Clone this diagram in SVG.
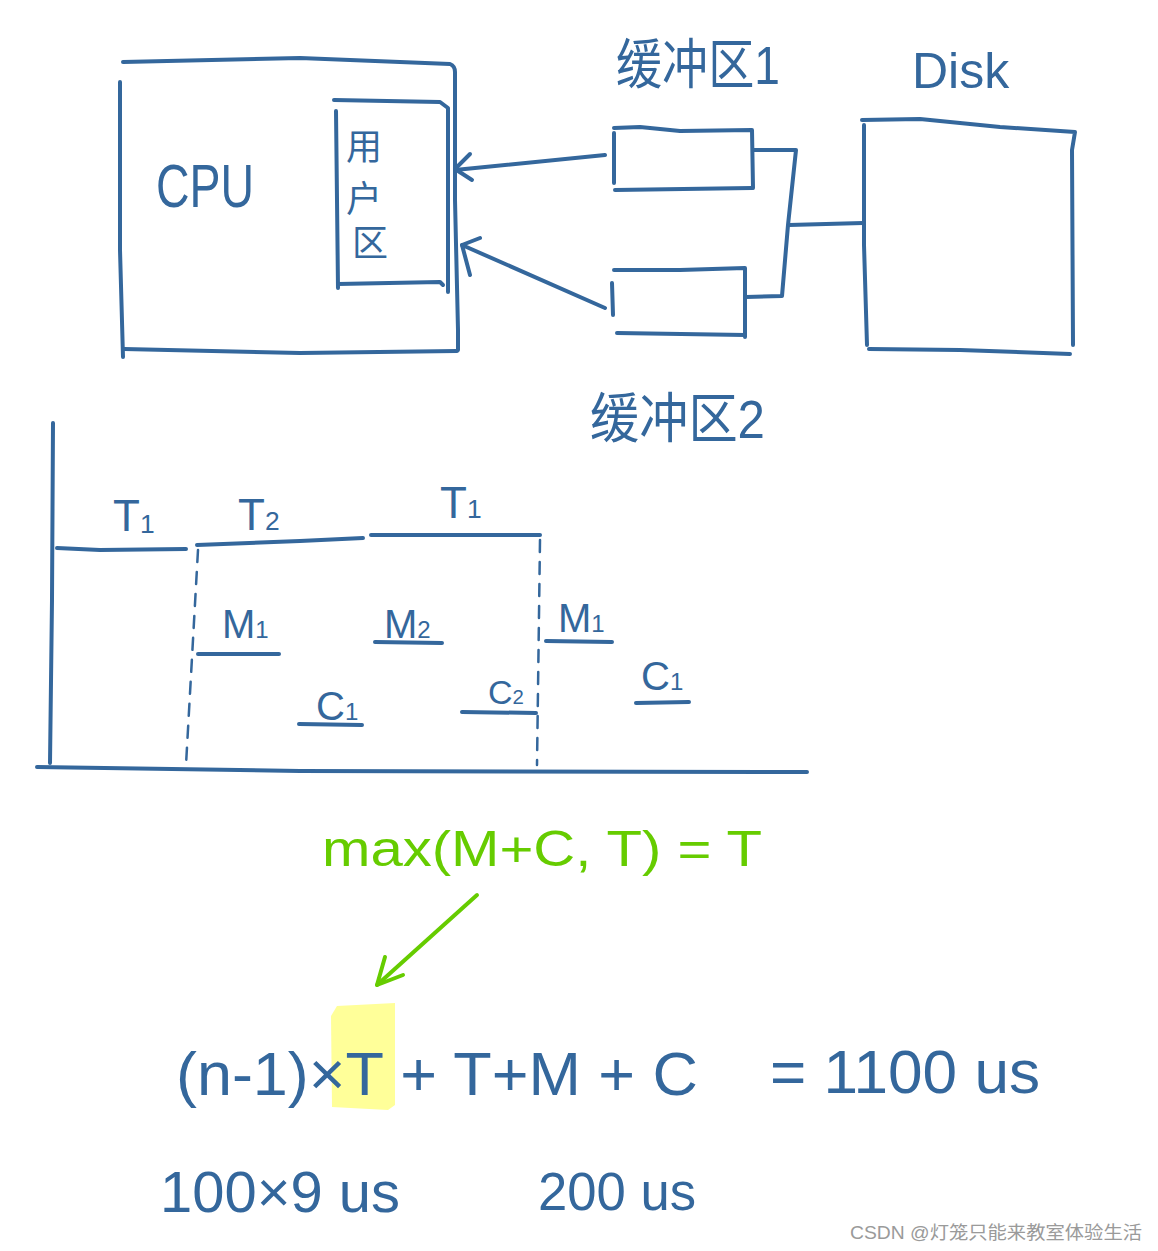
<svg xmlns="http://www.w3.org/2000/svg" width="1158" height="1251" viewBox="0 0 1158 1251">
<style>
.ln{fill:none;stroke:#34679c;stroke-width:4;stroke-linecap:round;stroke-linejoin:round}
.gl{fill:none;stroke:#66cc00;stroke-width:4;stroke-linecap:round;stroke-linejoin:round}
.dash{fill:none;stroke:#34679c;stroke-width:2.5;stroke-dasharray:12 10;stroke-linecap:round}
.t{font-family:"Liberation Sans","Noto Sans CJK SC",sans-serif;fill:#34679c}
.tg{font-family:"Liberation Sans",sans-serif;fill:#66cc00}
.sub{font-size:60%}
</style>
<rect width="1158" height="1251" fill="#fff"/>

<g id="cpu">
<path class="ln" d="M123 62 L300 58 L450 64 Q455 66 455 72 L455 200 L458 330 L458 350"/>
<path class="ln" d="M120 82 L120 250 L123 357"/>
<path class="ln" d="M124 349 L300 353 L457 351"/>
<text class="t" x="156" y="207" font-size="62" textLength="98" lengthAdjust="spacingAndGlyphs">CPU</text>
</g>

<g id="user-area">
<path class="ln" d="M334 100 L440 102 L448 108 L448 292"/>
<path class="ln" d="M336 111 L338 288"/>
<path class="ln" d="M338 284 L440 282 L443 285"/>
<text class="t" x="346" y="160" font-size="36">用</text>
<text class="t" x="346" y="212" font-size="36">户</text>
<text class="t" x="352" y="256" font-size="36">区</text>
</g>

<g id="buffer1">
<path class="ln" d="M614 128 L640 127 L680 131 L752 130 L753 188"/>
<path class="ln" d="M614 133 L614 183"/>
<path class="ln" d="M615 190 L752 188"/>
<text class="t" x="616" y="84" font-size="54" textLength="164" lengthAdjust="spacingAndGlyphs">缓冲区1</text>
</g>

<g id="buffer2">
<path class="ln" d="M614 270 L680 270 L745 268 L745 337"/>
<path class="ln" d="M612 283 L613 315"/>
<path class="ln" d="M617 333 L745 335"/>
<text class="t" x="590" y="438" font-size="54" textLength="175" lengthAdjust="spacingAndGlyphs">缓冲区2</text>
</g>

<g id="disk">
<path class="ln" d="M862 120 L920 119 L1000 127 L1075 132 L1072 150 L1073 345"/>
<path class="ln" d="M864 125 L864 245 L867 345"/>
<path class="ln" d="M869 349 L960 350 L1070 354"/>
<text class="t" x="912" y="88" font-size="50">Disk</text>
</g>

<g id="connectors">
<path class="ln" d="M605 155 L455 170"/>
<path class="ln" d="M470 154 L455 169 L472 180"/>
<path class="ln" d="M605 308 L462 245"/>
<path class="ln" d="M480 238 L462 245 L470 275"/>
<path class="ln" d="M754 150 L796 150 L788 225 L782 296 L746 297"/>
<path class="ln" d="M789 225 L863 223"/>
</g>

<g id="timeline">
<path class="ln" d="M53 423 L52 600 L50 763"/>
<path class="ln" d="M37 767 L300 771 L807 772"/>
<path class="ln" d="M57 548 L100 550 L186 549"/>
<path class="ln" d="M197 545 L300 541 L363 538"/>
<path class="ln" d="M371 535 L540 535"/>
<path class="dash" d="M198 550 L186 765"/>
<path class="dash" d="M540 540 L537 765"/>
<text class="t" x="113" y="531" font-size="44">T<tspan class="sub" dy="2">1</tspan></text>
<text class="t" x="238" y="530" font-size="44">T<tspan class="sub">2</tspan></text>
<text class="t" x="440" y="518" font-size="44">T<tspan class="sub">1</tspan></text>
<text class="t" x="222" y="638" font-size="40">M<tspan class="sub">1</tspan></text>
<path class="ln" d="M198 654 L279 654"/>
<text class="t" x="384" y="638" font-size="40">M<tspan class="sub">2</tspan></text>
<path class="ln" d="M375 642 L442 643"/>
<text class="t" x="558" y="632" font-size="40">M<tspan class="sub">1</tspan></text>
<path class="ln" d="M546 641 L612 642"/>
<text class="t" x="316" y="720" font-size="40">C<tspan class="sub">1</tspan></text>
<path class="ln" d="M299 724 L362 725"/>
<text class="t" x="488" y="704" font-size="34">C<tspan class="sub">2</tspan></text>
<path class="ln" d="M462 712 L536 713"/>
<text class="t" x="641" y="690" font-size="40">C<tspan class="sub">1</tspan></text>
<path class="ln" d="M636 703 L689 702"/>
</g>

<g id="formula-green">
<text class="tg" x="322" y="866" font-size="50" textLength="440" lengthAdjust="spacingAndGlyphs">max(M+C, T) = T</text>
<path class="gl" d="M477 895 L377 985"/>
<path class="gl" d="M385 957 L377 985 L403 975"/>
</g>

<g id="formula">
<path d="M337 1006 L395 1003 L395 1105 L388 1110 L332 1107 L331 1016 Z" fill="#ffff99"/>
<text class="t" x="176" y="1095" font-size="62" textLength="522" lengthAdjust="spacingAndGlyphs">(n-1)×T + T+M + C</text>
<text class="t" x="770" y="1093" font-size="62" textLength="270" lengthAdjust="spacingAndGlyphs">= 1100 us</text>
<text class="t" x="160" y="1212" font-size="58" textLength="240" lengthAdjust="spacingAndGlyphs">100×9 us</text>
<text class="t" x="538" y="1210" font-size="54" textLength="158" lengthAdjust="spacingAndGlyphs">200 us</text>
</g>

<text x="850" y="1239" font-family="Liberation Sans,Noto Sans CJK SC,sans-serif" font-size="18" fill="#9a9a9a" textLength="292" lengthAdjust="spacingAndGlyphs">CSDN @灯笼只能来教室体验生活</text>
</svg>
